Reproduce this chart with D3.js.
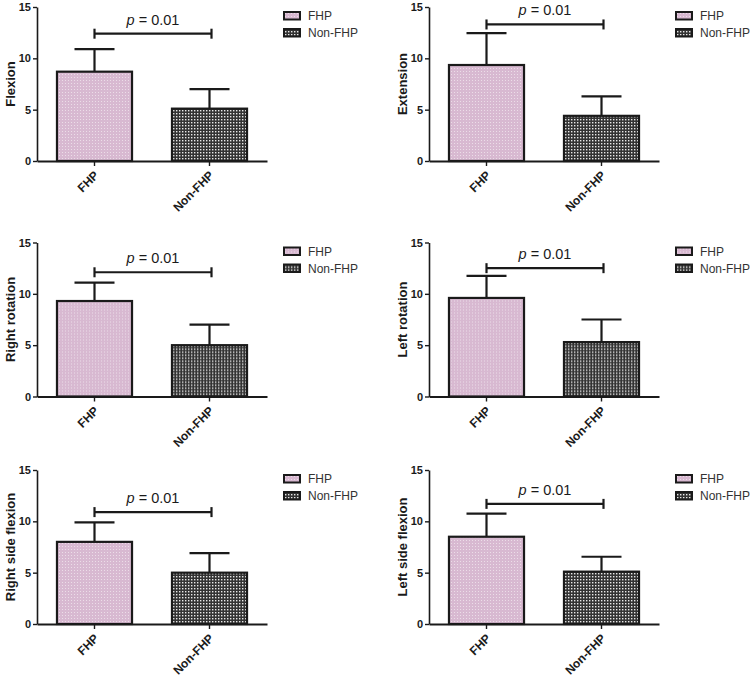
<!DOCTYPE html>
<html>
<head>
<meta charset="utf-8">
<script src="https://cdn.jsdelivr.net/npm/d3@7"></script>
<style>
  html, body { margin: 0; padding: 0; background: #fff; }
  svg { display: block; font-family: "Liberation Sans", Arial, sans-serif; }
</style>
</head>
<body>
<svg id="chart" width="752" height="677"></svg>
<script>
// group means / SD per neck movement
const groups = ["FHP", "Non-FHP"];
const measures = ["Flexion", "Extension", "Right rotation", "Left rotation", "Right side flexion", "Left side flexion"];
const fhpMean = [8.7, 9.35, 9.3, 9.6, 8.0, 8.5];
const fhpSD = [2.2, 3.1, 1.8, 2.15, 1.9, 2.25];
const nonMean = [5.1, 4.4, 5.0, 5.3, 5.0, 5.1];
const nonSD = [1.9, 1.9, 2.0, 2.2, 1.9, 1.45];
const pValues = ["0.01", "0.01", "0.01", "0.01", "0.01", "0.01"];
const bracketLevel = [12.4, 13.3, 12.1, 12.5, 10.9, 11.7];
const yTicks = [0, 5, 10, 15];

const colX = [37, 429];
const rowY = [7, 242.5, 470];
const plotH = 154;
const plotW = 230;
const ink = "#1a1a1a";

const svg = d3.select("#chart");

// fill patterns
const defs = svg.append("defs");
const pinkPat = defs.append("pattern")
    .attr("id", "pat-FHP")
    .attr("patternUnits", "userSpaceOnUse")
    .attr("width", 3).attr("height", 3);
pinkPat.append("rect").attr("width", 3).attr("height", 3).attr("fill", "#d8b9d1");
pinkPat.append("rect").attr("x", 1).attr("y", 1).attr("width", 1).attr("height", 1).attr("fill", "#ecdde8");

const darkPat = defs.append("pattern")
    .attr("id", "pat-Non-FHP")
    .attr("patternUnits", "userSpaceOnUse")
    .attr("width", 3).attr("height", 3);
darkPat.append("rect").attr("width", 3).attr("height", 3).attr("fill", "#333");
darkPat.append("rect").attr("x", 1).attr("y", 1).attr("width", 1.4).attr("height", 1.4).attr("fill", "#e8e8e8");

const x = d3.scaleBand().domain(groups).range([0, plotW]).paddingInner(0.33).paddingOuter(0.165);
const y = d3.scaleLinear().domain([0, 15]).range([plotH, 0]);

measures.forEach((m, i) => {
  const g = svg.append("g")
      .attr("transform", `translate(${colX[i % 2]},${rowY[Math.floor(i / 2)]})`);

  const rows = [
    { group: "FHP", mean: fhpMean[i], sd: fhpSD[i] },
    { group: "Non-FHP", mean: nonMean[i], sd: nonSD[i] }
  ];

  // error bars (upper only)
  const eb = g.append("g").attr("stroke", ink).attr("stroke-width", 2.2);
  rows.forEach(d => {
    const cx = x(d.group) + x.bandwidth() / 2;
    eb.append("line").attr("x1", cx).attr("x2", cx).attr("y1", y(d.mean)).attr("y2", y(d.mean + d.sd));
    eb.append("line").attr("x1", cx - 20).attr("x2", cx + 20).attr("y1", y(d.mean + d.sd)).attr("y2", y(d.mean + d.sd));
  });

  // bars
  g.selectAll("rect.bar")
    .data(rows)
    .join("rect")
      .attr("class", "bar")
      .attr("x", d => x(d.group) + 1)
      .attr("width", x.bandwidth() - 2)
      .attr("y", d => y(d.mean))
      .attr("height", d => y(0) - y(d.mean))
      .attr("fill", d => `url(#pat-${d.group})`)
      .attr("stroke", ink)
      .attr("stroke-width", 2.2);

  // y axis
  const ya = g.append("g")
      .call(d3.axisLeft(y).tickValues(yTicks).tickSize(4).tickPadding(2).tickSizeOuter(0));
  ya.select(".domain").attr("stroke", ink).attr("stroke-width", 1.6);
  ya.selectAll(".tick line").attr("stroke", ink).attr("stroke-width", 1.4);
  ya.selectAll(".tick text")
      .attr("fill", ink)
      .style("font-size", "11px")
      .style("font-weight", "bold")
      .style("font-family", "Liberation Sans, Arial, sans-serif");

  // x axis
  const xa = g.append("g")
      .attr("transform", `translate(0,${plotH})`)
      .call(d3.axisBottom(x).tickSize(5).tickSizeOuter(0));
  xa.select(".domain").attr("stroke", ink).attr("stroke-width", 2);
  xa.selectAll(".tick line").attr("stroke", ink).attr("stroke-width", 1.4);
  xa.selectAll(".tick text")
      .attr("fill", ink)
      .attr("text-anchor", "end")
      .attr("dy", 0)
      .attr("y", 0)
      .attr("transform", "translate(5,15) rotate(-45)")
      .style("font-size", "12px")
      .style("font-weight", "bold")
      .style("font-family", "Liberation Sans, Arial, sans-serif");

  // y title
  g.append("text")
      .attr("transform", `translate(-22,${plotH / 2}) rotate(-90)`)
      .attr("text-anchor", "middle")
      .attr("fill", ink)
      .style("font-size", "13px")
      .style("font-weight", "bold")
      .text(m);

  // significance bracket
  const bx1 = x("FHP") + x.bandwidth() / 2;
  const bx2 = x("Non-FHP") + x.bandwidth() / 2 + 2;
  const by = y(bracketLevel[i]);
  const br = g.append("g").attr("stroke", ink).attr("stroke-width", 2.2);
  br.append("line").attr("x1", bx1).attr("x2", bx2).attr("y1", by).attr("y2", by);
  br.append("line").attr("x1", bx1).attr("x2", bx1).attr("y1", by - 5).attr("y2", by + 5);
  br.append("line").attr("x1", bx2).attr("x2", bx2).attr("y1", by - 5).attr("y2", by + 5);

  const pt = g.append("text")
      .attr("x", (bx1 + bx2) / 2)
      .attr("y", by - 9)
      .attr("text-anchor", "middle")
      .attr("fill", ink)
      .style("font-size", "14.5px");
  pt.append("tspan").style("font-style", "italic").text("p");
  pt.append("tspan").text(" = " + pValues[i]);

  // legend
  const lg = g.append("g").attr("transform", "translate(247,5)");
  groups.forEach((grp, k) => {
    lg.append("rect")
        .attr("x", 0).attr("y", k * 17)
        .attr("width", 16).attr("height", 7.5)
        .attr("fill", `url(#pat-${grp})`)
        .attr("stroke", ink)
        .attr("stroke-width", 2);
    lg.append("text")
        .attr("x", 24).attr("y", k * 17 + 4)
        .attr("dy", "0.35em")
        .attr("fill", "#333")
        .style("font-size", "12px")
        .text(grp);
  });
});
</script>
</body>
</html>
